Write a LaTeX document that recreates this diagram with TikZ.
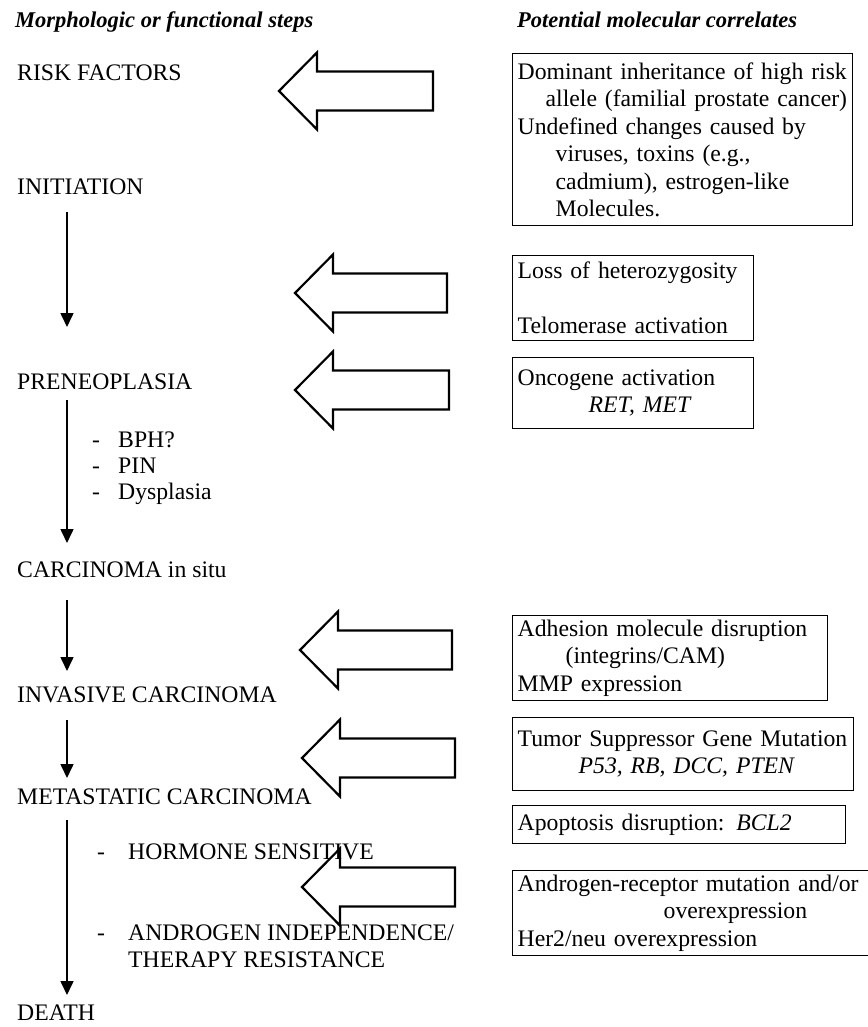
\documentclass[tikz,border=0pt]{standalone}
\usepackage{fontspec}
\setmainfont{Liberation Serif}
\usetikzlibrary{arrows.meta, positioning}

\tikzset{
  steptext/.style={anchor=west, inner sep=0pt, text height=15.7pt, text depth=0pt,
    font=\fontsize{23.7}{27.5}\selectfont},
  headtext/.style={anchor=base west, inner sep=0pt, font=\fontsize{22.5}{27}\selectfont\bfseries\itshape},
  corrbox/.style={draw, line width=1.4pt, anchor=north west, inner xsep=5pt, inner ysep=4pt,
    align=left, font=\fontsize{23.7}{27.5}\selectfont},
  steparrow/.style={line width=1.6pt, -{Triangle[length=14pt,width=13pt]}},
  blockarrow/.style={line width=2.2pt, line join=miter}
}

\begin{document}
\begin{tikzpicture}[x=1pt, y=-1pt]
\useasboundingbox (0,0) rectangle (867,1027);
% column heads
\node[headtext] (hleft) at (15,28) {Morphologic or functional steps};
\node[headtext] (hright) at (517,28) {Potential molecular correlates};

% steps
\node[steptext] (risk) at (17,73) {RISK FACTORS};
\node[steptext] (init) at (17,187) {INITIATION};
\node[steptext] (pre) at (17,382) {PRENEOPLASIA};
\node[steptext] (bphd) at (92,440) {-};
\node[steptext] (bph) at (118,440) {BPH?};
\node[steptext] (pind) at (92,466) {-};
\node[steptext] (pin) at (118,466) {PIN};
\node[steptext] (dysd) at (92,492) {-};
\node[steptext] (dys) at (118,492) {Dysplasia};
\node[steptext] (cis) at (17,570) {CARCINOMA in situ};
\node[steptext] (inv) at (17,695) {INVASIVE CARCINOMA};
\node[steptext] (met) at (17,797) {METASTATIC CARCINOMA};
\node[steptext] (hormd) at (97,852) {-};
\node[steptext] (horm) at (128,852) {HORMONE SENSITIVE};
\node[steptext] (andrd) at (97,933) {-};
\node[steptext] (andr) at (128,933) {ANDROGEN INDEPENDENCE/};
\node[steptext] (ther) at (128,960) {THERAPY RESISTANCE};
\node[steptext] (death) at (17,1013) {DEATH};

% arrows between steps
\foreach \n/\ya/\yb in {1/212/327, 2/400/543, 3/600/671, 4/720/778, 5/820/995}{
  \coordinate (s\n) at (67,\ya);
  \coordinate (e\n) at (67,\yb);
  \draw[steparrow] (s\n) -- (e\n);
}

% molecular correlates
\node[corrbox, text width=330pt, minimum height=172pt] (c1) at (512,53) {Dominant inheritance of high risk\\
\hspace*{28pt}\mbox{allele (familial prostate cancer)}\\
Undefined changes caused by\\
\hspace*{38pt}viruses, toxins (e.g.,\\
\hspace*{38pt}cadmium), estrogen-like\\
\hspace*{38pt}Molecules.};
\node[corrbox, text width=231pt, minimum height=85pt] (c2) at (512,255) {Loss of heterozygosity\\[27.5pt]
Telomerase activation};
\node[corrbox, text width=231pt, minimum height=71pt] (c3) at (512,357) {Oncogene activation\\
\hspace*{71pt}\textit{RET, MET}};
\node[corrbox, text width=305pt, minimum height=85pt] (c4) at (512,615) {Adhesion molecule disruption\\
\hspace*{48pt}(integrins/CAM)\\
MMP expression};
\node[corrbox, text width=331pt, minimum height=73pt] (c5) at (512,717) {Tumor Suppressor Gene Mutation\\
\hspace*{61pt}\textit{P53, RB, DCC, PTEN}};
\node[corrbox, text width=323pt, minimum height=38pt] (c6) at (512,805) {Apoptosis disruption: \textit{BCL2}};
\node[corrbox, text width=370pt, minimum height=85pt] (c7) at (512,870) {Androgen-receptor mutation and/or\\
\hspace*{146pt}overexpression\\
Her2/neu overexpression};

% block arrows from correlates to steps
\foreach \tx/\y/\ex in {279/91/433, 295/293/447, 295/390/449, 300/650/452, 302/758/455, 302/887/455}{
  \draw[blockarrow] (\tx,\y) -- ({\tx+38},{\y-38.5}) -- ({\tx+38},{\y-19.5}) -- (\ex,{\y-19.5})
    -- (\ex,{\y+19.5}) -- ({\tx+38},{\y+19.5}) -- ({\tx+38},{\y+38.5}) -- cycle;
}
\end{tikzpicture}
\end{document}
